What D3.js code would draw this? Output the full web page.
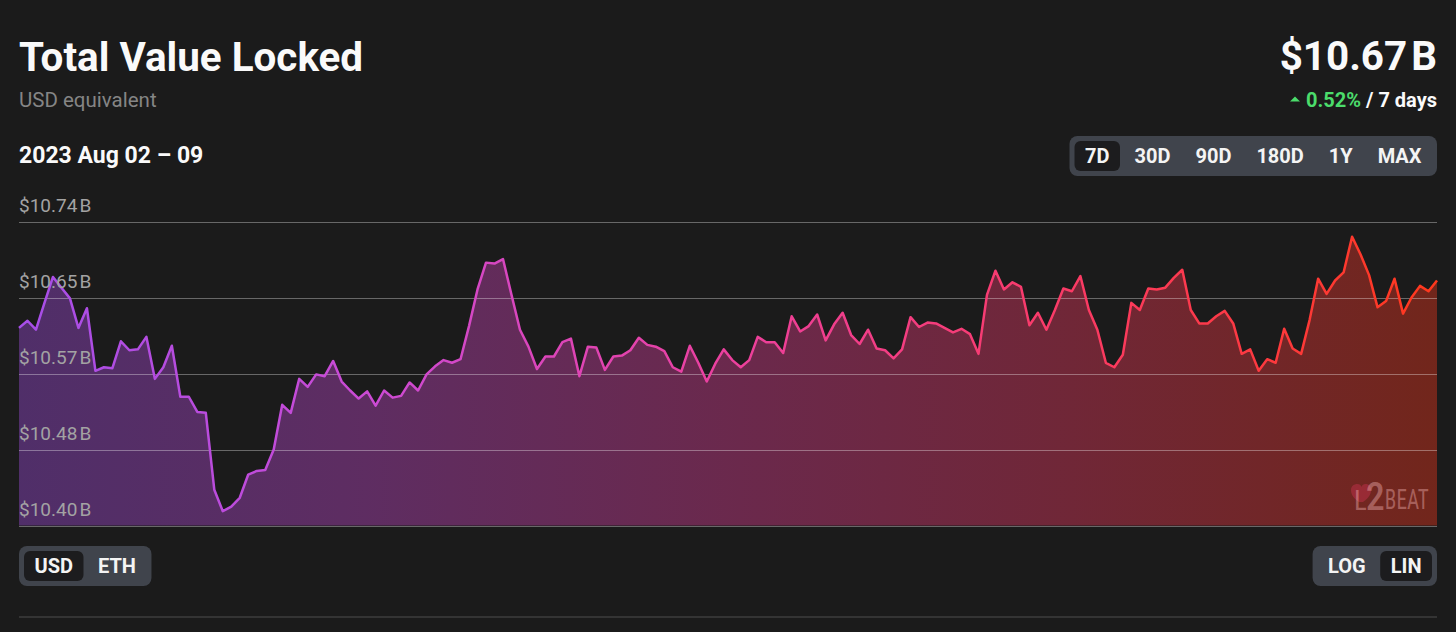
<!DOCTYPE html>
<html><head><meta charset="utf-8">
<script src="https://cdn.jsdelivr.net/npm/d3@7"></script>
<style>
html,body{margin:0;padding:0;background:#1b1b1b;overflow:hidden;}
svg{display:block;font-family:Roboto,"Noto Sans",sans-serif;}
</style></head><body>
<svg id="c" width="1456" height="632"></svg>
<script>
const title = "Total Value Locked";
const subtitle = "USD equivalent";
const dateRange = "2023 Aug 02 \u2013 09";
const currentValue = "$10.67";
const currentUnit = "B";
const changePct = "0.52%";
const changeSuffix = " / 7 days";
const rangeOptions = ["7D","30D","90D","180D","1Y","MAX"];
const selectedRange = "7D";
const currencyOptions = ["USD","ETH"];
const selectedCurrency = "USD";
const scaleOptions = ["LOG","LIN"];
const selectedScale = "LIN";
const tickValues = [10.40, 10.485, 10.57, 10.655, 10.74];
const tickLabels = ["$10.40","$10.48","$10.57","$10.65","$10.74"];
const tickUnit = "B";
const startDate = new Date(2023, 7, 2, 0, 0);
// hourly TVL, billions USD
const tvlValues = [
10.621,10.629,10.619,10.649,10.678,10.666,10.654,10.621,10.643,10.573,
10.577,10.576,10.606,10.596,10.597,10.611,10.564,10.577,10.601,10.544,
10.544,10.527,10.526,10.440,10.416,10.421,10.431,10.457,10.461,10.462,
10.485,10.535,10.526,10.564,10.555,10.569,10.567,10.584,10.561,10.551,
10.542,10.550,10.534,10.551,10.543,10.545,10.560,10.551,10.569,10.578,
10.585,10.582,10.586,10.623,10.664,10.694,10.693,10.698,10.658,10.619,
10.600,10.575,10.589,10.589,10.605,10.609,10.567,10.600,10.599,10.574,
10.589,10.590,10.596,10.610,10.602,10.600,10.595,10.577,10.572,10.601,
10.582,10.561,10.581,10.597,10.585,10.577,10.585,10.611,10.605,10.605,
10.593,10.634,10.617,10.623,10.636,10.607,10.625,10.638,10.613,10.603,
10.619,10.598,10.596,10.587,10.597,10.633,10.622,10.627,10.626,10.621,
10.616,10.620,10.614,10.592,10.658,10.685,10.664,10.672,10.667,10.624,
10.638,10.619,10.641,10.665,10.662,10.679,10.641,10.619,10.582,10.577,
10.591,10.649,10.641,10.665,10.664,10.666,10.677,10.686,10.641,10.626,
10.626,10.634,10.640,10.626,10.592,10.597,10.573,10.586,10.582,10.620,
10.598,10.592,10.630,10.676,10.659,10.674,10.683,10.723,10.703,10.680,
10.644,10.651,10.676,10.637,10.655,10.668,10.662,10.674
];
const gradientColors = ["#a64ee8","#cc4ad4","#ec409e","#fb3a63","#ff381c"];

const svg = d3.select("#c");
const left = 19, right = 1437;
const hours = tvlValues.map((_, i) => d3.timeHour.offset(startDate, i));
const data = hours.map((h, i) => ({t: h, v: tvlValues[i]}));

const x = d3.scaleTime().domain(d3.extent(hours)).range([left, right]);
const y = d3.scaleLinear().domain([tickValues[0], tickValues[tickValues.length-1]]).range([525.5, 221.5]);

const defs = svg.append("defs");
const lg = defs.append("linearGradient").attr("id","lineGrad")
  .attr("gradientUnits","userSpaceOnUse").attr("x1",left).attr("x2",right).attr("y1",0).attr("y2",0);
gradientColors.forEach((c,i)=>lg.append("stop").attr("offset", i/(gradientColors.length-1)).attr("stop-color", c));

// header
svg.append("text").attr("x",left).attr("y",71).attr("font-size",40.4).attr("font-weight",700)
  .attr("fill","#fafafa").text(title);
svg.append("text").attr("x",left).attr("y",107).attr("font-size",20.5).attr("fill","#858585").text(subtitle);
svg.append("text").attr("x",left).attr("y",163).attr("font-size",23).attr("font-weight",700)
  .attr("fill","#fafafa").text(dateRange);

const val = svg.append("text").attr("x",right).attr("y",70).attr("font-size",40.4).attr("font-weight",700)
  .attr("text-anchor","end").attr("fill","#fafafa");
val.append("tspan").text(currentValue);
val.append("tspan").attr("dx",4).text(currentUnit);

const chg = svg.append("text").attr("x",right).attr("y",107).attr("font-size",20).attr("font-weight",700)
  .attr("text-anchor","end");
chg.append("tspan").attr("fill","#4bdc6b").text(changePct);
chg.append("tspan").attr("fill","#fafafa").text(changeSuffix);
const cb = chg.node().getBBox();
const tx = cb.x - 16;
svg.append("path").attr("d",`M${tx},101.5 L${tx+10},101.5 L${tx+5},96.5 Z`).attr("fill","#4bdc6b");

// toggle groups
function toggle(options, selected, anchorX, alignRight, top) {
  const g = svg.append("g");
  const fs = 20, pad = 10.5, gap = 4, inner = 5, h = 40;
  const widths = options.map(o => {
    const t = g.append("text").attr("font-size",fs).attr("font-weight",700).text(o);
    const w = t.node().getComputedTextLength(); t.remove(); return w;
  });
  const bw = widths.map(w => w + 2*pad);
  const total = inner*2 + d3.sum(bw) + gap*(options.length-1);
  const px = alignRight ? anchorX - total : anchorX;
  g.append("rect").attr("x",px).attr("y",top).attr("width",total).attr("height",h).attr("rx",8).attr("fill","#40444c");
  let cx = px + inner;
  options.forEach((o,i) => {
    if (o === selected) {
      g.append("rect").attr("x",cx).attr("y",top+5).attr("width",bw[i]).attr("height",h-10).attr("rx",6).attr("fill","#1c1c1e");
    }
    g.append("text").attr("x",cx + bw[i]/2).attr("y",top+26.5).attr("text-anchor","middle")
      .attr("font-size",fs).attr("font-weight",700).attr("fill","#f4f4f4").text(o);
    cx += bw[i] + gap;
  });
}
toggle(rangeOptions, selectedRange, right, true, 136);
toggle(currencyOptions, selectedCurrency, left, false, 546);
toggle(scaleOptions, selectedScale, right, true, 546);

// area + line
const area = d3.area().x(d=>x(d.t)).y0(y(tickValues[0])).y1(d=>y(d.v));
svg.append("path").datum(data).attr("d",area).attr("fill","url(#lineGrad)").attr("fill-opacity",0.38);

// gridlines
svg.append("g").selectAll("line").data(tickValues).join("line")
  .attr("x1",left).attr("x2",right).attr("y1",d=>Math.round(y(d))+0.5).attr("y2",d=>Math.round(y(d))+0.5)
  .attr("stroke","#ffffff").attr("stroke-opacity",0.34).attr("stroke-width",1);

const line = d3.line().x(d=>x(d.t)).y(d=>y(d.v));
svg.append("path").datum(data).attr("d",line).attr("fill","none").attr("stroke","url(#lineGrad)")
  .attr("stroke-width",2.5).attr("stroke-linejoin","round");

// tick labels
const tl = svg.append("g").selectAll("text").data(tickValues).join("text")
  .attr("x",left).attr("y",d=>y(d)-9.5).attr("font-size",19).attr("fill","#a3a3a3");
tl.append("tspan").text((d,i)=>tickLabels[i]);
tl.append("tspan").attr("dx",2).text(tickUnit);

// watermark
const wm = svg.append("g").attr("transform","translate(1351,484)");
wm.append("path").attr("d","M8,18 C2,14 0,10 0,6 C0,2 3,0 6.5,0 C8.5,0 10,1 10.5,3 C11,1 12.5,0 14.5,0 C18,0 20,2 20,6 C20,10 18,14 12,18 Z")
  .attr("fill","#c0304a").attr("fill-opacity",0.5);
const wt = wm.append("text").attr("y",26).attr("fill","#ffc0c0").attr("fill-opacity",0.38).attr("font-family","Roboto Condensed, Roboto, sans-serif");
wt.append("tspan").attr("x",3).attr("font-size",27).text("L");
wt.append("tspan").attr("font-size",38).attr("font-weight",500).attr("dx",-1).text("2");
wt.append("tspan").attr("font-size",27).attr("dy",-1).attr("textLength",44).attr("lengthAdjust","spacingAndGlyphs").text("BEAT");

// bottom divider
svg.append("rect").attr("x",left).attr("y",616).attr("width",right-left).attr("height",2).attr("fill","#343434");
</script>
</body></html>
